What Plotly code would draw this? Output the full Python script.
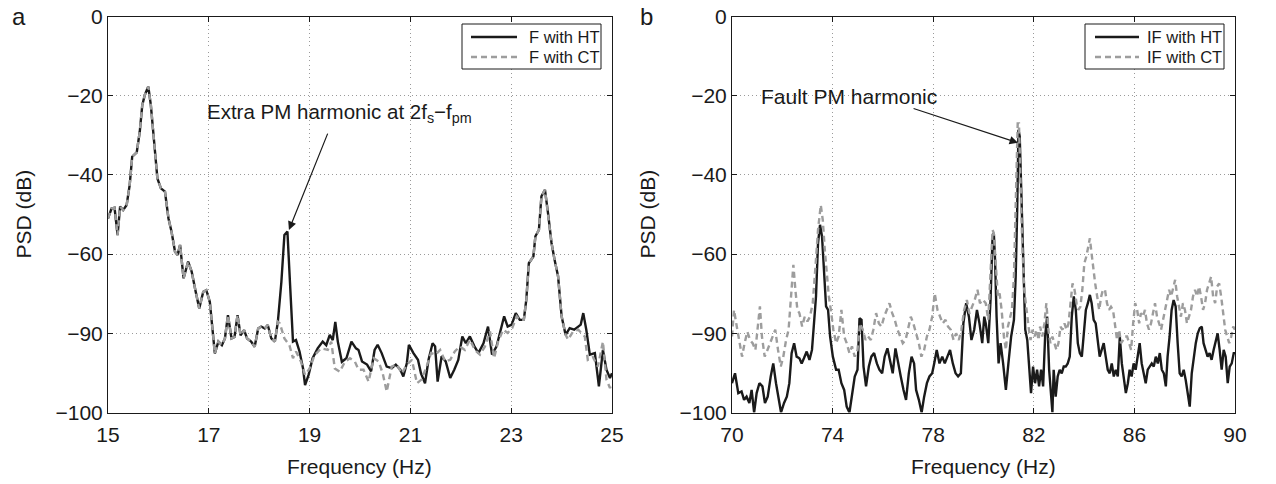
import plotly.graph_objects as go

# ---------------- Panel a: F (fundamental region) ----------------
freq_a_ht = [15.0, 15.07, 15.13, 15.19, 15.24, 15.30, 15.37, 15.43, 15.48, 15.57, 15.63, 15.68, 15.73, 15.80,
             15.85, 15.92, 15.98, 16.05, 16.13, 16.20, 16.26, 16.33, 16.38, 16.43, 16.50, 16.59, 16.66, 16.74,
             16.81, 16.89, 16.95, 17.02, 17.07, 17.12, 17.19, 17.26, 17.32, 17.38, 17.45, 17.51, 17.57, 17.63,
             17.70, 17.76, 17.84, 17.91, 17.98, 18.04, 18.11, 18.17, 18.24, 18.31, 18.37, 18.44, 18.50, 18.56,
             18.61, 18.67, 18.73, 18.80, 18.87, 18.91, 18.98, 19.06, 19.16, 19.26, 19.33, 19.40, 19.46, 19.51,
             19.56, 19.64, 19.73, 19.83, 19.92, 19.97, 20.04, 20.14, 20.22, 20.29, 20.35, 20.43, 20.53, 20.63,
             20.71, 20.80, 20.86, 20.93, 20.97, 21.06, 21.15, 21.21, 21.29, 21.36, 21.44, 21.49, 21.54, 21.62,
             21.70, 21.79, 21.87, 21.95, 22.03, 22.10, 22.18, 22.27, 22.35, 22.45, 22.54, 22.62, 22.71, 22.80,
             22.86, 22.93, 23.01, 23.09, 23.17, 23.25, 23.30, 23.35, 23.44, 23.48, 23.55, 23.60, 23.67, 23.73,
             23.80, 23.86, 23.93, 24.00, 24.08, 24.16, 24.25, 24.33, 24.38, 24.43, 24.49, 24.56, 24.66, 24.74,
             24.82, 24.89, 24.96, 25.0]
psd_a_ht = [-51.0, -48.5, -48.3, -55.2, -48.0, -48.9, -47.6, -42.6, -35.4, -34.3, -29.1, -22.4, -19.8, -17.7,
            -22.4, -31.6, -40.9, -43.4, -44.2, -51.0, -54.3, -59.4, -60.2, -57.7, -66.1, -61.9, -64.4, -69.5,
            -73.7, -69.5, -69.1, -72.0, -79.6, -85.1, -82.1, -83.0, -81.3, -75.4, -81.3, -80.9, -75.4, -80.5,
            -79.2, -81.3, -82.1, -83.4, -78.8, -78.3, -78.8, -77.9, -81.3, -82.1, -77.1, -67.0, -55.2, -54.3,
            -67.0, -82.1, -81.7, -84.6, -88.9, -93.1, -90.5, -86.3, -83.8, -82.1, -83.0, -80.4, -81.7, -77.1,
            -82.1, -87.2, -86.3, -82.1, -83.8, -84.2, -87.1, -87.9, -89.6, -84.2, -82.9, -85.0, -88.4, -88.8,
            -87.9, -89.2, -90.9, -87.5, -82.9, -85.0, -86.7, -90.1, -92.6, -86.7, -82.5, -83.3, -92.2, -85.8,
            -87.1, -91.3, -89.2, -86.7, -80.8, -82.5, -80.8, -83.3, -85.0, -82.5, -78.3, -85.4, -83.3, -78.3,
            -75.7, -78.3, -77.8, -74.9, -76.6, -76.6, -71.5, -62.3, -60.6, -55.5, -53.9, -45.4, -43.8, -49.6,
            -57.2, -61.4, -65.6, -75.7, -80.4, -78.7, -79.1, -78.3, -77.8, -74.9, -79.1, -85.4, -85.0, -93.4,
            -84.2, -89.2, -91.3, -90.1]

freq_a_ct = [15.0, 15.07, 15.13, 15.19, 15.24, 15.30, 15.37, 15.43, 15.48, 15.57, 15.63, 15.68, 15.73, 15.80,
             15.85, 15.92, 15.98, 16.05, 16.13, 16.20, 16.26, 16.33, 16.38, 16.43, 16.50, 16.59, 16.66, 16.74,
             16.81, 16.89, 16.95, 17.02, 17.07, 17.12, 17.19, 17.26, 17.32, 17.38, 17.45, 17.51, 17.57, 17.63,
             17.70, 17.76, 17.84, 17.91, 17.98, 18.04, 18.11, 18.17, 18.24, 18.31, 18.37, 18.41, 18.50, 18.60,
             18.67, 18.73, 18.83, 18.91, 19.00, 19.10, 19.23, 19.36, 19.43, 19.50, 19.60, 19.70, 19.80, 19.90,
             19.97, 20.07, 20.17, 20.27, 20.37, 20.45, 20.53, 20.63, 20.73, 20.83, 20.93, 21.03, 21.13, 21.22,
             21.32, 21.41, 21.50, 21.59, 21.69, 21.79, 21.88, 21.98, 22.08, 22.18, 22.28, 22.38, 22.48, 22.58,
             22.66, 22.74, 22.84, 22.93, 23.02, 23.11, 23.17, 23.25, 23.30, 23.35, 23.44, 23.48, 23.55, 23.60,
             23.67, 23.73, 23.80, 23.86, 23.93, 24.00, 24.08, 24.13, 24.23, 24.33, 24.46, 24.52, 24.62, 24.72,
             24.82, 24.89, 24.96, 25.0]
psd_a_ct = [-51.0, -48.5, -48.3, -55.2, -48.0, -48.9, -47.6, -42.6, -35.4, -34.3, -29.1, -22.4, -19.8, -17.7,
            -22.4, -31.6, -40.9, -43.4, -44.2, -51.0, -54.3, -59.4, -60.2, -57.7, -66.1, -61.9, -64.4, -69.5,
            -73.7, -69.5, -69.1, -72.0, -79.6, -85.1, -82.1, -83.0, -81.3, -75.4, -81.3, -80.9, -75.4, -80.5,
            -79.2, -81.3, -82.1, -83.4, -78.8, -78.3, -78.8, -77.9, -81.3, -82.1, -77.1, -77.5, -81.3, -83.0,
            -86.3, -84.6, -87.2, -90.5, -88.9, -85.5, -83.8, -84.2, -82.1, -88.9, -89.7, -87.2, -86.3, -87.2,
            -89.2, -89.2, -92.2, -86.3, -87.1, -90.1, -94.7, -88.4, -87.9, -90.1, -87.9, -86.7, -92.6, -91.7,
            -88.4, -85.0, -85.4, -84.2, -87.1, -86.7, -84.6, -83.3, -84.2, -81.6, -84.2, -85.4, -83.3, -79.5,
            -86.3, -82.1, -79.1, -79.9, -78.7, -75.7, -76.6, -76.6, -71.5, -62.3, -60.6, -55.5, -53.9, -45.4,
            -43.8, -49.6, -57.2, -61.4, -65.6, -75.7, -80.4, -81.6, -79.5, -79.1, -80.8, -86.7, -86.0, -88.4,
            -82.1, -91.7, -93.8, -92.5]

# ---------------- Panel b: IF (fault region) ----------------
freq_b_ht = [70.0, 70.12, 70.25, 70.38, 70.48, 70.58, 70.69, 70.78, 70.88, 70.98, 71.09, 71.21, 71.31, 71.42,
             71.54, 71.64, 71.75, 71.86, 71.95, 72.07, 72.18, 72.28, 72.37, 72.47, 72.57, 72.68, 72.77, 72.86,
             72.97, 73.08, 73.18, 73.26, 73.34, 73.42, 73.50, 73.58, 73.66, 73.74, 73.82, 73.90, 74.01, 74.14,
             74.24, 74.35, 74.46, 74.56, 74.67, 74.77, 74.88, 74.99, 75.07, 75.15, 75.23, 75.33, 75.44, 75.54,
             75.65, 75.76, 75.86, 75.97, 76.07, 76.18, 76.29, 76.39, 76.50, 76.60, 76.71, 76.82, 76.92, 77.03,
             77.14, 77.24, 77.32, 77.43, 77.54, 77.64, 77.75, 77.85, 77.96, 78.04, 78.14, 78.25, 78.36, 78.46,
             78.57, 78.67, 78.78, 78.89, 78.99, 79.10, 79.20, 79.31, 79.42, 79.52, 79.63, 79.74, 79.84, 79.95,
             80.03, 80.09, 80.19, 80.28, 80.36, 80.41, 80.46, 80.52, 80.60, 80.68, 80.78, 80.89, 80.99, 81.10,
             81.21, 81.28, 81.34, 81.39, 81.44, 81.50, 81.58, 81.66, 81.74, 81.81, 81.89, 81.97, 82.05, 82.13,
             82.21, 82.29, 82.37, 82.45, 82.53, 82.61, 82.69, 82.74, 82.79, 82.87, 82.95, 83.03, 83.11, 83.19,
             83.27, 83.35, 83.43, 83.51, 83.59, 83.67, 83.75, 83.83, 83.91, 83.99, 84.07, 84.15, 84.23, 84.30,
             84.38, 84.46, 84.54, 84.62, 84.70, 84.78, 84.86, 84.94, 85.02, 85.10, 85.18, 85.26, 85.34, 85.42,
             85.50, 85.58, 85.66, 85.74, 85.81, 85.89, 85.97, 86.05, 86.13, 86.21, 86.29, 86.37, 86.45, 86.53,
             86.61, 86.69, 86.77, 86.85, 86.93, 87.01, 87.09, 87.17, 87.25, 87.32, 87.40, 87.48, 87.56, 87.64,
             87.72, 87.80, 87.88, 87.96, 88.04, 88.12, 88.20, 88.28, 88.36, 88.44, 88.52, 88.60, 88.68, 88.75,
             88.83, 88.91, 88.99, 89.07, 89.15, 89.23, 89.31, 89.39, 89.47, 89.55, 89.63, 89.71, 89.79, 89.87,
             89.95, 90.0]
psd_b_ht = [-92.6, -90.1, -95.1, -94.7, -96.8, -96.0, -97.6, -94.3, -100.0, -95.1, -92.6, -93.4, -97.6, -96.0,
            -90.9, -87.6, -92.6, -96.8, -100.0, -97.6, -96.0, -92.6, -85.0, -82.5, -85.9, -86.3, -87.6, -86.3,
            -84.6, -86.7, -84.2, -77.5, -70.7, -57.3, -52.6, -55.6, -65.7, -73.2, -74.1, -80.8, -85.9, -89.2,
            -89.2, -92.6, -94.3, -98.5, -100.0, -96.0, -90.9, -89.2, -76.2, -76.6, -88.4, -93.4, -88.4, -85.9,
            -85.0, -87.6, -89.2, -90.1, -85.9, -83.8, -86.7, -90.1, -83.8, -87.6, -90.9, -94.3, -96.8, -90.1,
            -85.9, -87.6, -94.3, -96.8, -100.0, -96.0, -92.6, -90.9, -90.1, -87.6, -84.2, -87.6, -85.9, -87.6,
            -85.9, -84.2, -87.6, -90.1, -90.9, -90.1, -77.5, -72.4, -75.8, -81.7, -79.1, -74.1, -77.5, -82.5,
            -75.8, -77.5, -82.5, -71.6, -55.6, -54.7, -61.5, -75.8, -87.6, -82.5, -87.6, -94.3, -87.6, -80.8,
            -76.6, -65.7, -48.8, -28.6, -30.3, -43.8, -61.5, -79.1, -81.7, -87.6, -95.1, -88.4, -92.6, -89.2,
            -93.4, -89.2, -93.4, -80.8, -75.8, -89.2, -97.7, -100.0, -89.2, -96.0, -90.9, -89.2, -90.1, -88.4,
            -88.4, -87.6, -85.9, -75.8, -70.7, -74.1, -82.5, -85.0, -85.9, -79.1, -74.1, -72.4, -70.3, -72.4,
            -76.6, -77.5, -82.5, -85.9, -84.2, -82.5, -85.9, -89.2, -90.1, -87.6, -90.9, -89.2, -90.9, -80.8,
            -87.6, -90.9, -95.1, -92.6, -89.2, -90.9, -87.6, -89.2, -85.9, -82.5, -87.6, -90.1, -92.6, -89.2,
            -88.4, -87.6, -88.4, -85.9, -87.6, -85.0, -89.2, -90.1, -93.4, -85.9, -80.8, -74.1, -71.6, -73.2,
            -82.5, -90.1, -90.9, -89.2, -91.8, -95.1, -98.5, -90.1, -85.9, -82.5, -80.0, -78.7, -78.3, -82.5,
            -84.2, -85.9, -85.0, -86.7, -84.2, -81.7, -80.0, -84.2, -89.2, -84.2, -85.9, -92.6, -88.4, -87.6,
            -85.0, -85.0]

freq_b_ct = [70.0, 70.08, 70.19, 70.29, 70.40, 70.50, 70.61, 70.72, 70.82, 70.93, 71.03, 71.11, 71.19, 71.30,
             71.41, 71.51, 71.62, 71.72, 71.83, 71.94, 72.04, 72.15, 72.25, 72.36, 72.44, 72.52, 72.60, 72.68,
             72.79, 72.89, 73.00, 73.10, 73.21, 73.32, 73.42, 73.53, 73.61, 73.69, 73.77, 73.85, 73.93, 74.03,
             74.14, 74.24, 74.35, 74.46, 74.56, 74.67, 74.77, 74.88, 74.99, 75.09, 75.20, 75.31, 75.41, 75.52,
             75.62, 75.73, 75.84, 75.94, 76.05, 76.15, 76.26, 76.37, 76.47, 76.58, 76.68, 76.79, 76.90, 77.00,
             77.11, 77.21, 77.32, 77.43, 77.53, 77.64, 77.75, 77.85, 77.96, 78.06, 78.17, 78.28, 78.38, 78.49,
             78.59, 78.70, 78.81, 78.91, 79.02, 79.12, 79.23, 79.34, 79.44, 79.55, 79.65, 79.76, 79.86, 79.97,
             80.09, 80.19, 80.28, 80.36, 80.41, 80.49, 80.57, 80.64, 80.72, 80.81, 80.89, 80.97, 81.05, 81.13,
             81.21, 81.28, 81.36, 81.41, 81.46, 81.54, 81.62, 81.70, 81.79, 81.87, 81.95, 82.03, 82.11, 82.19,
             82.25, 82.34, 82.42, 82.50, 82.58, 82.66, 82.74, 82.82, 82.90, 82.98, 83.06, 83.14, 83.22, 83.30,
             83.38, 83.46, 83.54, 83.62, 83.70, 83.77, 83.85, 83.93, 84.01, 84.09, 84.17, 84.23, 84.28, 84.36,
             84.44, 84.52, 84.60, 84.68, 84.75, 84.83, 84.91, 84.99, 85.07, 85.15, 85.23, 85.31, 85.39, 85.47,
             85.55, 85.63, 85.71, 85.79, 85.87, 85.95, 86.03, 86.11, 86.19, 86.26, 86.34, 86.42, 86.50, 86.58,
             86.66, 86.74, 86.82, 86.90, 86.98, 87.06, 87.14, 87.22, 87.30, 87.38, 87.46, 87.54, 87.62, 87.70,
             87.78, 87.85, 87.93, 88.01, 88.09, 88.17, 88.25, 88.33, 88.41, 88.49, 88.57, 88.65, 88.73, 88.81,
             88.89, 88.97, 89.05, 89.13, 89.21, 89.29, 89.37, 89.45, 89.53, 89.61, 89.69, 89.77, 89.85, 89.93,
             90.0]
psd_b_ct = [-80.8, -74.1, -78.3, -82.5, -85.9, -82.5, -79.6, -81.7, -82.5, -84.2, -78.3, -73.2, -80.8, -85.9,
            -84.2, -82.5, -80.8, -79.1, -84.2, -88.4, -85.9, -81.7, -79.1, -70.7, -62.7, -69.0, -74.1, -74.9,
            -78.3, -75.8, -77.0, -75.8, -72.4, -63.1, -53.9, -47.6, -51.4, -58.9, -65.7, -70.7, -74.1, -79.1,
            -82.5, -80.8, -74.1, -80.8, -82.5, -85.0, -83.3, -85.9, -84.2, -77.5, -79.1, -81.7, -80.8, -81.7,
            -79.1, -74.9, -77.5, -78.3, -75.8, -74.1, -72.4, -74.9, -76.6, -79.1, -80.8, -82.5, -81.7, -79.1,
            -75.8, -77.5, -80.0, -82.5, -85.9, -84.2, -80.8, -79.1, -75.8, -69.9, -74.1, -75.8, -77.5, -76.6,
            -78.3, -79.1, -81.7, -80.0, -81.7, -79.1, -74.1, -71.6, -75.0, -73.2, -71.6, -69.0, -72.4, -71.5,
            -72.4, -76.6, -65.7, -53.9, -54.7, -63.1, -70.7, -69.9, -74.1, -80.8, -84.2, -78.3, -75.8, -74.1,
            -65.7, -48.8, -27.0, -27.0, -40.4, -57.3, -69.0, -74.1, -78.3, -81.7, -79.1, -80.8, -79.1, -81.7,
            -78.3, -80.8, -77.5, -72.4, -79.1, -82.5, -80.8, -82.5, -84.2, -82.5, -78.3, -79.1, -77.5, -79.1,
            -77.5, -72.4, -67.4, -69.0, -72.4, -74.1, -73.3, -69.0, -62.3, -60.6, -57.3, -56.0, -58.9, -64.0,
            -67.4, -70.7, -74.1, -70.7, -69.0, -69.0, -72.4, -74.1, -73.3, -74.1, -78.3, -81.7, -79.1, -82.5,
            -81.7, -80.8, -80.8, -82.5, -84.2, -77.5, -72.4, -74.1, -77.5, -74.9, -75.8, -74.1, -77.5, -79.1,
            -77.5, -74.9, -72.4, -75.8, -77.5, -79.1, -76.6, -74.1, -70.7, -69.0, -70.7, -68.2, -66.5, -70.7,
            -74.1, -75.8, -72.4, -74.1, -77.5, -75.8, -74.1, -70.7, -69.0, -70.7, -68.2, -70.7, -74.1, -72.4,
            -69.0, -67.4, -65.7, -70.7, -72.4, -68.2, -67.4, -70.7, -75.8, -79.1, -80.8, -82.5, -80.8, -78.3,
            -79.1]

series_names_a = ["F with HT", "F with CT"]
series_names_b = ["IF with HT", "IF with CT"]

# axis ticks (the original's y axis carries these labels at equal spacing)
y_tickvals = [0, -20, -40, -60, -80, -100]
y_ticktext = ["0", "\u221220", "\u221240", "\u221260", "\u221290", "\u2212100"]
x_ticks_a = [15, 17, 19, 21, 23, 25]
x_ticks_b = [70, 74, 78, 82, 86, 90]

FONT = "Liberation Sans, Arial, sans-serif"
W, H = 1276, 484
BLACK = "#1a1a1a"
GRAY = "#9d9d9d"
FS = 21
DASH = "6px,4px"


def px(x):   # screen x (px) -> paper fraction
    return x / W


def py(y):   # screen y (px) -> paper fraction
    return 1 - y / H


fig = go.Figure()
fig.add_trace(go.Scatter(x=freq_a_ht, y=psd_a_ht, mode="lines", name=series_names_a[0],
                         line=dict(color=BLACK, width=2.4), xaxis="x", yaxis="y"))
fig.add_trace(go.Scatter(x=freq_a_ct, y=psd_a_ct, mode="lines", name=series_names_a[1],
                         line=dict(color=GRAY, width=2.4, dash=DASH), xaxis="x", yaxis="y"))
fig.add_trace(go.Scatter(x=freq_b_ht, y=psd_b_ht, mode="lines", name=series_names_b[0],
                         line=dict(color=BLACK, width=2.4), xaxis="x2", yaxis="y2"))
fig.add_trace(go.Scatter(x=freq_b_ct, y=psd_b_ct, mode="lines", name=series_names_b[1],
                         line=dict(color=GRAY, width=2.4, dash=DASH), xaxis="x2", yaxis="y2"))

ydom = [py(412.5), py(16.5)]
axis_common = dict(showline=True, linecolor=BLACK, linewidth=1, mirror="ticks", ticks="inside", ticklen=5,
                   tickcolor=BLACK, showgrid=True, gridcolor="#9a9a9a", griddash="1px,3px", gridwidth=1,
                   zeroline=False, automargin=False, ticklabeloverflow="allow",
                   tickfont=dict(family=FONT, size=FS, color=BLACK))

fig.update_layout(
    width=W, height=H, margin=dict(l=0, r=0, t=0, b=0, autoexpand=False),
    paper_bgcolor="white", plot_bgcolor="white",
    font=dict(family=FONT, color=BLACK),
    showlegend=False,
    xaxis=dict(domain=[px(108), px(612)], range=[15, 25], tickvals=x_ticks_a, anchor="y",
               ticklabelstandoff=3, **axis_common),
    yaxis=dict(domain=ydom, range=[-100, 0], tickvals=y_tickvals, ticktext=y_ticktext, anchor="x", **axis_common),
    xaxis2=dict(domain=[px(732), px(1235)], range=[70, 90], tickvals=x_ticks_b, anchor="y2",
                ticklabelstandoff=3, **axis_common),
    yaxis2=dict(domain=ydom, range=[-100, 0], tickvals=y_tickvals, ticktext=y_ticktext, anchor="x2", **axis_common),
)

ann = []
shapes = []
# axis titles
for xc in (23, 647):
    ann.append(dict(text="PSD (dB)", x=px(xc), y=(ydom[0] + ydom[1]) / 2, xref="paper", yref="paper",
                    xanchor="center", yanchor="middle", textangle=-90, showarrow=False,
                    font=dict(family=FONT, size=FS, color=BLACK)))
for xc in (360, 983):
    ann.append(dict(text="Frequency (Hz)", x=px(xc), y=py(466), xref="paper", yref="paper",
                    xanchor="center", yanchor="middle", showarrow=False,
                    font=dict(family=FONT, size=FS, color=BLACK)))
# panel letters
for letter, xc in (("a", 19), ("b", 646)):
    ann.append(dict(text=letter, x=px(xc), y=py(16), xref="paper", yref="paper", xanchor="center",
                    yanchor="middle", showarrow=False, font=dict(family=FONT, size=24, color=BLACK)))

# legends (box, line samples, labels)
for names, (bx0, bx1, lx0, lx1, tx) in ((series_names_a, (462, 601, 471, 517, 527)),
                                        (series_names_b, (1085, 1224, 1095, 1139, 1145))):
    shapes.append(dict(type="rect", xref="paper", yref="paper", x0=px(bx0), x1=px(bx1), y0=py(69), y1=py(24),
                       line=dict(color=BLACK, width=1), fillcolor="white", layer="above"))
    for i, (name, yc) in enumerate(zip(names, (37, 57))):
        style = dict(color=BLACK, width=2.4) if i == 0 else dict(color=GRAY, width=2.4, dash=DASH)
        shapes.append(dict(type="line", xref="paper", yref="paper", x0=px(lx0), x1=px(lx1), y0=py(yc),
                           y1=py(yc), line=style, layer="above"))
        ann.append(dict(text=name, x=px(tx), y=py(yc), xref="paper", yref="paper", xanchor="left",
                        yanchor="middle", showarrow=False, font=dict(family=FONT, size=16.5, color=BLACK)))

# callouts
ann.append(dict(text="Extra PM harmonic at 2f<sub>s</sub>\u2212f<sub>pm</sub>", x=px(339), y=py(113),
                xref="paper", yref="paper", xanchor="center", yanchor="middle", showarrow=False,
                font=dict(family=FONT, size=20.5, color=BLACK)))
ann.append(dict(text="", x=18.59, y=-53.9, xref="x", yref="y", ax=19.37, ay=-29.2, axref="x", ayref="y",
                showarrow=True, arrowhead=2, arrowsize=1.4, arrowwidth=1.2, arrowcolor=BLACK))
ann.append(dict(text="Fault PM harmonic", x=px(849), y=py(97), xref="paper", yref="paper",
                xanchor="center", yanchor="middle", showarrow=False, font=dict(family=FONT, size=FS, color=BLACK)))
ann.append(dict(text="", x=81.37, y=-31.9, xref="x2", yref="y2", ax=77.16, ay=-23.1, axref="x2", ayref="y2",
                showarrow=True, arrowhead=2, arrowsize=1.4, arrowwidth=1.2, arrowcolor=BLACK))
fig.update_layout(annotations=ann, shapes=shapes)

# remove the browser's default 8 px page margin so the figure fills the window exactly
fig.write_html("out.html", config={"displayModeBar": False},
               post_script="document.body.style.margin='0px';")
